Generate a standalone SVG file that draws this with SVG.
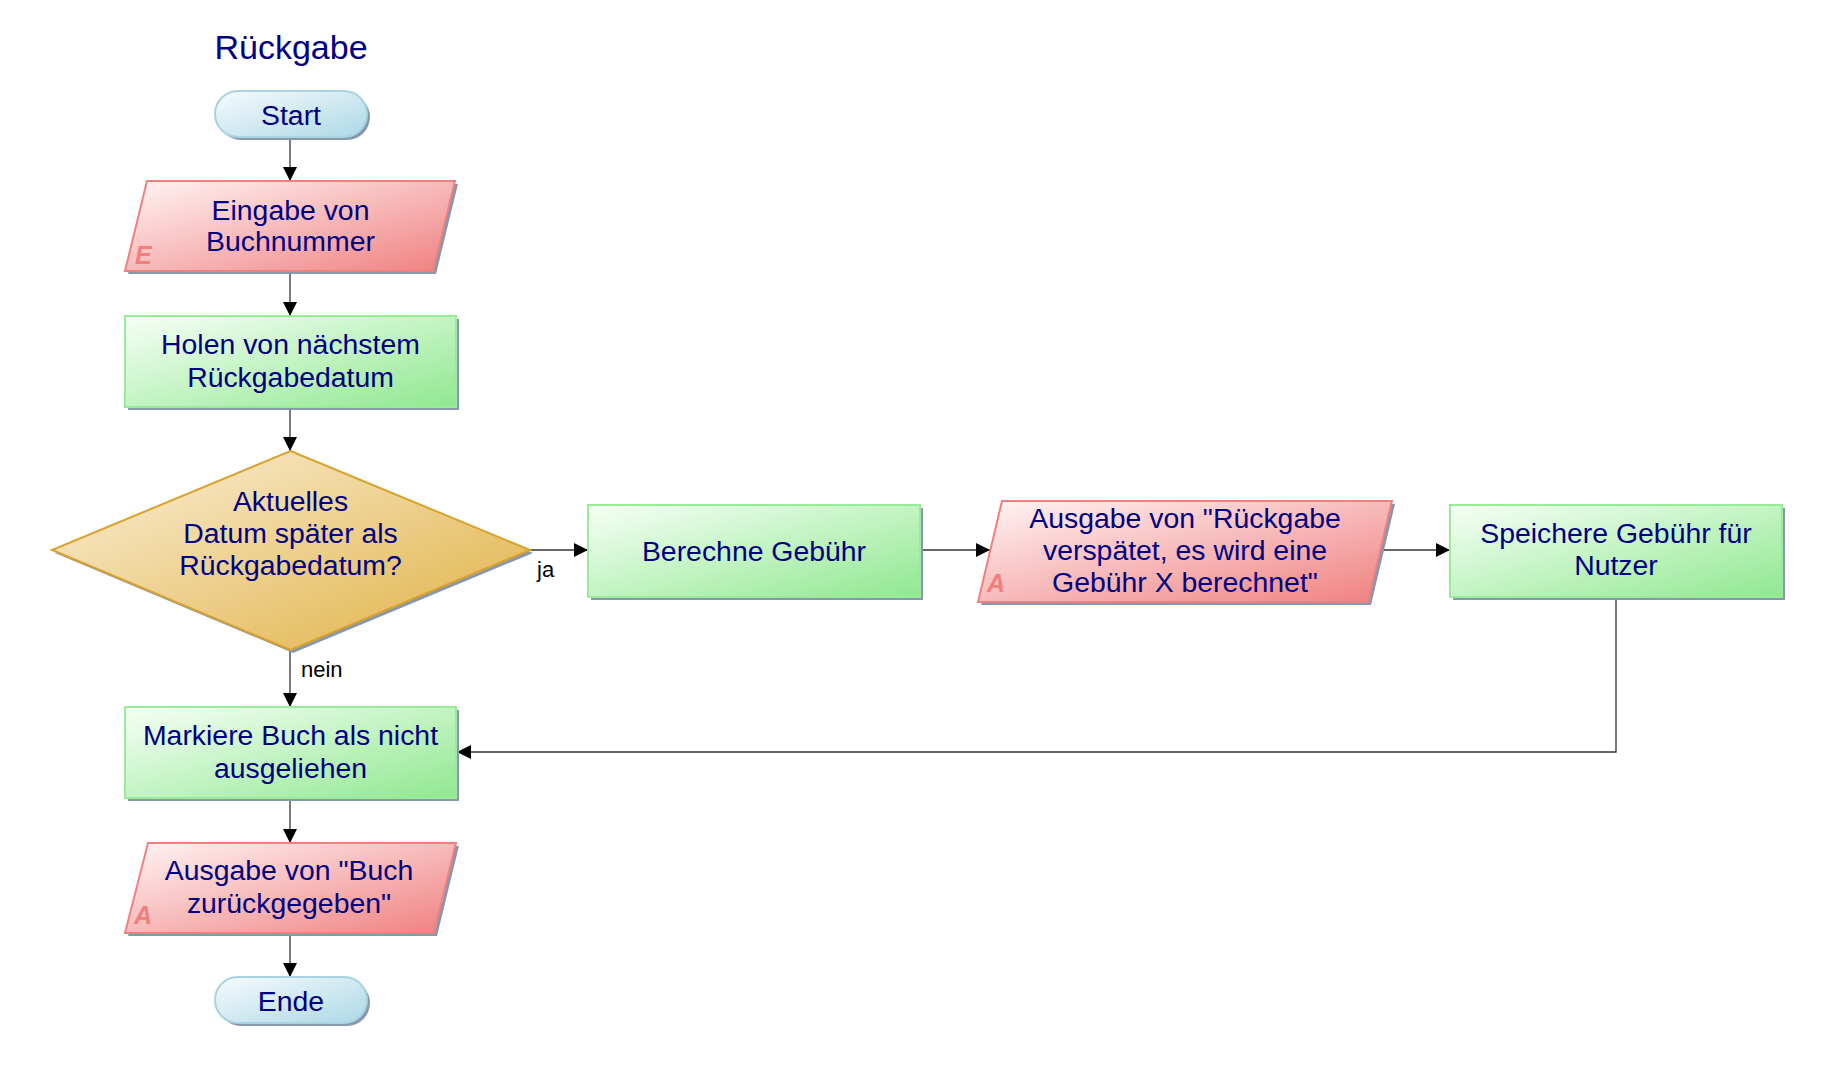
<svg xmlns="http://www.w3.org/2000/svg" width="1833" height="1066" viewBox="0 0 1833 1066">
  <style>
    .t { font-family: "Liberation Sans", Arial, sans-serif; font-size: 28.4px; fill: #000080; text-anchor: middle; }
    .title { font-family: "Liberation Sans", Arial, sans-serif; font-size: 34px; fill: #000080; text-anchor: middle; }
    .lbl { font-family: "Liberation Sans", Arial, sans-serif; font-size: 22px; fill: #000000; }
    .io { font-family: "Liberation Sans", Arial, sans-serif; font-size: 25px; font-weight: bold; font-style: italic; fill: #f08080; }
    .shadow { fill: #8797ad; }
    .term { fill: url(#gTerm); stroke: #a9d3df; stroke-width: 2; }
    .proc { fill: url(#gProc); stroke: #98ec98; stroke-width: 2; }
    .data { fill: url(#gData); stroke: #f08080; stroke-width: 2; }
    .dec { fill: url(#gDec); stroke: #d9a22a; stroke-width: 2; }
    .conn { fill: none; stroke: #333333; stroke-width: 1.3; }
  </style>
  <defs>
    <linearGradient id="gTerm" x1="0" y1="0" x2="1" y2="1">
      <stop offset="0" stop-color="#f6fbfd"/>
      <stop offset="1" stop-color="#add8e6"/>
    </linearGradient>
    <linearGradient id="gProc" x1="0" y1="0" x2="1" y2="1">
      <stop offset="0" stop-color="#f6fff6"/>
      <stop offset="1" stop-color="#90e890"/>
    </linearGradient>
    <linearGradient id="gData" x1="0" y1="0" x2="1" y2="1">
      <stop offset="0" stop-color="#fff4f4"/>
      <stop offset="1" stop-color="#f08080"/>
    </linearGradient>
    <linearGradient id="gDec" x1="0" y1="0" x2="1" y2="1">
      <stop offset="0" stop-color="#faf0da"/>
      <stop offset="1" stop-color="#e0b040"/>
    </linearGradient>
    <marker id="arr" markerWidth="14" markerHeight="14" refX="14" refY="7" orient="auto" markerUnits="userSpaceOnUse">
      <path d="M0,0 L14,7 L0,14 z" fill="#000000"/>
    </marker>
  </defs>

  <text class="title" x="291" y="59">Rückgabe</text>

  <g id="connectors">
    <path class="conn" d="M290,137 L290,181" marker-end="url(#arr)"/>
    <path class="conn" d="M290,271 L290,316" marker-end="url(#arr)"/>
    <path class="conn" d="M290,407 L290,451" marker-end="url(#arr)"/>
    <path class="conn" d="M290,650 L290,707" marker-end="url(#arr)"/>
    <text class="lbl" x="301" y="677">nein</text>
    <path class="conn" d="M530,550 L588,550" marker-end="url(#arr)"/>
    <text class="lbl" x="537" y="577">ja</text>
    <path class="conn" d="M920,550 L990,550" marker-end="url(#arr)"/>
    <path class="conn" d="M1380,550 L1450,550" marker-end="url(#arr)"/>
    <path class="conn" d="M1616,597 L1616,752 L457,752" marker-end="url(#arr)"/>
    <path class="conn" d="M290,798 L290,843" marker-end="url(#arr)"/>
    <path class="conn" d="M290,933 L290,977" marker-end="url(#arr)"/>
  </g>

  <g id="start">
    <rect class="shadow" x="218" y="94" width="152" height="46" rx="23"/>
    <rect class="term" x="215" y="91" width="152" height="46" rx="23"/>
    <text class="t" x="291" y="125">Start</text>
  </g>

  <g id="eingabe">
    <polygon class="shadow" points="150,184 458,184 436,274 128,274"/>
    <polygon class="data" points="147,181 455,181 433,271 125,271"/>
    <text class="io" x="135" y="264">E</text>
    <text class="t" x="290.5" y="220">Eingabe von</text>
    <text class="t" x="290.5" y="251">Buchnummer</text>
  </g>

  <g id="holen">
    <rect class="shadow" x="128" y="319" width="331" height="91"/>
    <rect class="proc" x="125" y="316" width="331" height="91"/>
    <text class="t" x="290.5" y="354">Holen von nächstem</text>
    <text class="t" x="290.5" y="387">Rückgabedatum</text>
  </g>

  <g id="entscheidung">
    <polygon class="shadow" points="293,454 533,553 293,653 55,553"/>
    <polygon class="dec" points="290.5,451 530,550 290.5,650 52,550"/>
    <text class="t" x="290.5" y="511">Aktuelles</text>
    <text class="t" x="290.5" y="543">Datum später als</text>
    <text class="t" x="290.5" y="575">Rückgabedatum?</text>
  </g>

  <g id="berechne">
    <rect class="shadow" x="591" y="508" width="332" height="92"/>
    <rect class="proc" x="588" y="505" width="332" height="92"/>
    <text class="t" x="754" y="561">Berechne Gebühr</text>
  </g>

  <g id="ausgabe-verspaetet">
    <polygon class="shadow" points="1005,504 1395,504 1371,605 981,605"/>
    <polygon class="data" points="1002,501 1392,501 1368,602 978,602"/>
    <text class="io" x="987" y="592">A</text>
    <text class="t" x="1185" y="528">Ausgabe von "Rückgabe</text>
    <text class="t" x="1185" y="560">verspätet, es wird eine</text>
    <text class="t" x="1185" y="592">Gebühr X berechnet"</text>
  </g>

  <g id="speichere">
    <rect class="shadow" x="1453" y="508" width="332" height="92"/>
    <rect class="proc" x="1450" y="505" width="332" height="92"/>
    <text class="t" x="1616" y="543">Speichere Gebühr für</text>
    <text class="t" x="1616" y="575">Nutzer</text>
  </g>

  <g id="markiere">
    <rect class="shadow" x="128" y="710" width="331" height="91"/>
    <rect class="proc" x="125" y="707" width="331" height="91"/>
    <text class="t" x="290.5" y="745">Markiere Buch als nicht</text>
    <text class="t" x="290.5" y="778">ausgeliehen</text>
  </g>

  <g id="ausgabe-buch">
    <polygon class="shadow" points="151,846 459,846 437,936 128,936"/>
    <polygon class="data" points="148,843 456,843 434,933 125,933"/>
    <text class="io" x="134" y="924">A</text>
    <text class="t" x="289" y="880">Ausgabe von "Buch</text>
    <text class="t" x="289" y="913">zurückgegeben"</text>
  </g>

  <g id="ende">
    <rect class="shadow" x="218" y="980" width="152" height="46" rx="23"/>
    <rect class="term" x="215" y="977" width="152" height="46" rx="23"/>
    <text class="t" x="291" y="1011">Ende</text>
  </g>
</svg>
